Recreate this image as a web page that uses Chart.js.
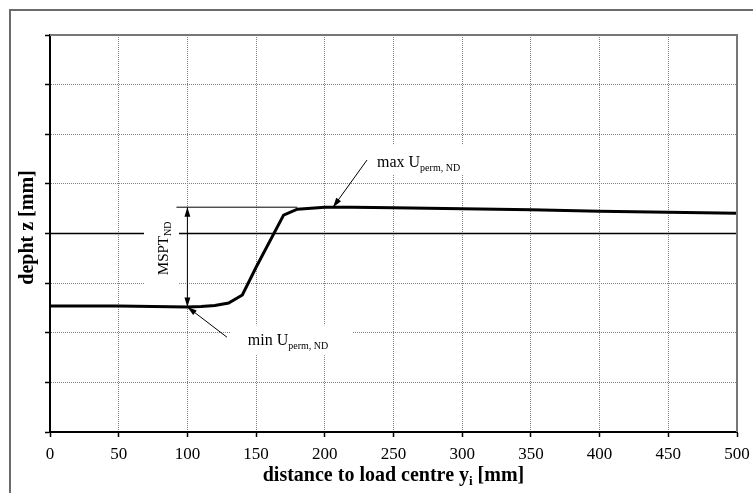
<!DOCTYPE html>
<html>
<head>
<meta charset="utf-8">
<script src="https://cdn.jsdelivr.net/npm/chart.js@4.4.1/dist/chart.umd.min.js"></script>
<style>
  html, body { margin: 0; padding: 0; background: #fff; }
  #wrap { width: 753px; height: 493px; }
</style>
</head>
<body>
<div id="wrap"><canvas id="graficoPerfil"></canvas></div>
<script>
// distance to load centre [mm] and depth (grid units, 0 = reference level)
const distance = [0, 50, 100, 110, 120, 130, 140, 150, 170, 180, 190, 200, 220, 250, 300, 350, 400, 450, 500];
const depth = [-1.46, -1.46, -1.48, -1.47, -1.45, -1.40, -1.24, -0.68, 0.37, 0.49, 0.51, 0.53, 0.53, 0.52, 0.50, 0.48, 0.45, 0.43, 0.41];
const zeroLine = [0, 0];
const xTicks = [0, 50, 100, 150, 200, 250, 300, 350, 400, 450, 500];
const yTicks = [-4, -3, -2, -1, 0, 1, 2, 3, 4];

const serif = '"Liberation Serif", "Times New Roman", serif';
const minV = Math.min(...depth);
const maxV = Math.max(...depth);
const minX = distance[depth.indexOf(minV)];

function subText(c, x, y, main, sub, size, bold, after) {
  const w = bold ? 'bold ' : '';
  c.font = w + size + 'px ' + serif;
  c.fillText(main, x, y);
  let dx = c.measureText(main).width;
  c.font = w + Math.round(size * 0.65) + 'px ' + serif;
  c.fillText(sub, x + dx, y + size * 0.22);
  dx += c.measureText(sub).width;
  if (after) {
    c.font = w + size + 'px ' + serif;
    c.fillText(after, x + dx, y);
  }
}

function subWidth(c, main, sub, size, bold, after) {
  const w = bold ? 'bold ' : '';
  c.font = w + size + 'px ' + serif;
  let t = c.measureText(main).width + (after ? c.measureText(after).width : 0);
  c.font = w + Math.round(size * 0.65) + 'px ' + serif;
  return t + c.measureText(sub).width;
}

function arrow(c, x1, y1, x2, y2) {
  const a = Math.atan2(y2 - y1, x2 - x1);
  c.beginPath();
  c.moveTo(x1, y1);
  c.lineTo(x2, y2);
  c.stroke();
  c.beginPath();
  c.moveTo(x2, y2);
  c.lineTo(x2 - 10 * Math.cos(a - 0.3), y2 - 10 * Math.sin(a - 0.3));
  c.lineTo(x2 - 10 * Math.cos(a + 0.3), y2 - 10 * Math.sin(a + 0.3));
  c.closePath();
  c.fill();
}

const notas = {
  id: 'notas',
  beforeDraw(chart) {
    const c = chart.ctx;
    c.save();
    c.fillStyle = '#fff';
    c.fillRect(0, 0, chart.width, chart.height);
    c.strokeStyle = '#6b6b6b';
    c.lineWidth = 2;
    c.beginPath();
    c.moveTo(10, chart.height);
    c.lineTo(10, 10);
    c.lineTo(chart.width, 10);
    c.stroke();
    c.restore();
  },
  afterDatasetsDraw(chart) {
    const c = chart.ctx;
    const xs = chart.scales.x, ys = chart.scales.y;
    const X = v => xs.getPixelForValue(v);
    const Y = v => ys.getPixelForValue(v);
    c.save();
    // white boxes behind labels
    c.fillStyle = '#fff';
    c.fillRect(X(68.4), Y(0.37), X(93.9) - X(68.4), Y(-1.14) - Y(0.37));
    c.fillRect(X(131), Y(-1.85), X(220.5) - X(131), Y(-2.45) - Y(-1.85));
    c.fillRect(X(225.6), Y(1.78), X(323.9) - X(225.6), Y(1.20) - Y(1.78));

    c.strokeStyle = '#000';
    c.fillStyle = '#000';
    c.lineWidth = 1;
    // max level line
    c.beginPath();
    c.moveTo(X(92), Y(maxV));
    c.lineTo(X(180), Y(maxV));
    c.stroke();
    // MSPT double arrow
    const mx = X(minX);
    arrow(c, mx, (Y(maxV) + Y(minV)) / 2, mx, Y(maxV));
    arrow(c, mx, (Y(maxV) + Y(minV)) / 2, mx, Y(minV));
    // pointer arrows
    arrow(c, X(128.8), Y(-2.09), X(minX), Y(minV));
    arrow(c, X(230.7), Y(1.48), X(206), Y(maxV));

    c.textAlign = 'left';
    c.textBaseline = 'alphabetic';
    subText(c, X(144), Y(-2.25), 'min U', 'perm, ND', 16);
    subText(c, X(238), Y(1.34), 'max U', 'perm, ND', 16);

    // MSPT label, rotated
    c.save();
    c.translate(168, Y(-0.84));
    c.rotate(-Math.PI / 2);
    subText(c, 0, 0, 'MSPT', 'ND', 15);
    c.restore();

    // plot frame top and right
    const a = chart.chartArea;
    c.strokeStyle = '#777';
    c.lineWidth = 2;
    c.beginPath();
    c.moveTo(a.left, a.top);
    c.lineTo(a.right, a.top);
    c.lineTo(a.right, a.bottom);
    c.stroke();

    // axis titles
    const tw = subWidth(c, 'distance to load centre y', 'i', 20, true, ' [mm]');
    subText(c, (a.left + a.right) / 2 - tw / 2, 481, 'distance to load centre y', 'i', 20, true, ' [mm]');
    c.save();
    c.translate(33, (a.top + a.bottom) / 2 - 6);
    c.rotate(-Math.PI / 2);
    c.font = 'bold 20px ' + serif;
    c.textAlign = 'center';
    c.fillText('depht z [mm]', 0, 0);
    c.restore();
    c.restore();
  }
};

const ctx = document.getElementById('graficoPerfil');

new Chart(ctx, {
  type: 'line',
  data: {
    datasets: [
      {
        label: 'depth',
        data: distance.map((d, i) => ({ x: d, y: depth[i] })),
        borderColor: '#000',
        borderWidth: 3,
        pointRadius: 0,
        tension: 0,
      },
      {
        label: 'zero',
        data: zeroLine.map((v, i) => ({ x: xTicks[i ? xTicks.length - 1 : 0], y: v })),
        borderColor: '#000',
        borderWidth: 1.5,
        pointRadius: 0,
      },
    ]
  },
  options: {
    responsive: true,
    maintainAspectRatio: false,
    animation: false,
    layout: { padding: { left: 10, top: 35, right: 16, bottom: 0 } },
    plugins: {
      legend: { display: false },
      tooltip: { enabled: false }
    },
    scales: {
      x: {
        type: 'linear',
        min: xTicks[0],
        max: xTicks[xTicks.length - 1],
        afterBuildTicks: s => { s.ticks = xTicks.map(v => ({ value: v })); },
        afterFit: s => { s.height = 61; s.paddingRight = 0; s.paddingLeft = 0; },
        ticks: {
          color: '#000',
          padding: 7,
          maxRotation: 0,
          autoSkip: false,
          font: { family: serif, size: 17 }
        },
        grid: {
          color: '#808080',
          lineWidth: 1,
          tickColor: '#000',
          tickLength: 5,
          tickWidth: 1.5,
          tickBorderDash: []
        },
        border: { color: '#000', width: 2, dash: [1, 1] }
      },
      y: {
        type: 'linear',
        min: yTicks[0],
        max: yTicks[yTicks.length - 1],
        afterBuildTicks: s => { s.ticks = yTicks.map(v => ({ value: v })); },
        afterFit: s => { s.width = 40; },
        ticks: { display: false },
        grid: {
          color: '#808080',
          lineWidth: 1,
          tickColor: '#000',
          tickLength: 5,
          tickWidth: 1.5,
          tickBorderDash: []
        },
        border: { color: '#000', width: 2, dash: [1, 1] }
      }
    }
  },
  plugins: [notas]
});
</script>
</body>
</html>
